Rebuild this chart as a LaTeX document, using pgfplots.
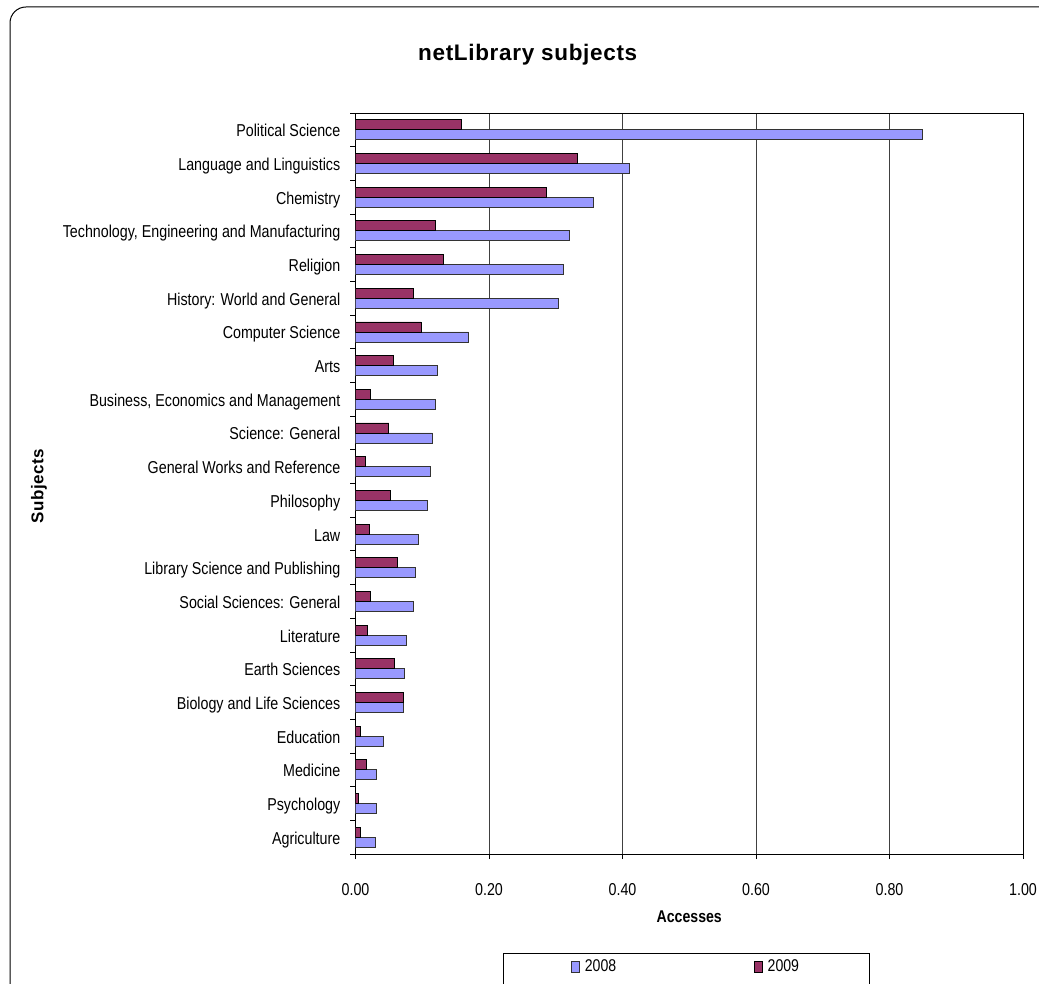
\documentclass[border=0pt]{standalone}
\usepackage{pgfplots}
\pgfplotsset{compat=1.18}
\usepackage{pgfplotstable}
\usepackage{fontspec}
\setmainfont{Liberation Sans}
\newfontfamily\cond[FakeStretch=0.83]{Liberation Sans}
\newfontfamily\titlefont[LetterSpace=3]{Liberation Sans}
\definecolor{c08}{HTML}{9999FF}
\definecolor{c09}{HTML}{993366}

% y: position (22 = top), a: 2008, b: 2009
\pgfplotstableread{
y  a      b
22 0.850  0.159
21 0.411  0.333
20 0.357  0.286
19 0.321  0.119
18 0.311  0.131
17 0.304  0.087
16 0.169  0.098
15 0.123  0.057
14 0.119  0.023
13 0.115  0.050
12 0.112  0.015
11 0.107  0.052
10 0.094  0.021
9  0.089  0.063
8  0.087  0.022
7  0.076  0.018
6  0.073  0.059
5  0.072  0.072
4  0.042  0.007
3  0.031  0.016
2  0.031  0.005
1  0.030  0.007
}\data

\begin{document}
\begin{tikzpicture}
\useasboundingbox (0,0) rectangle (1039pt,983pt);
\clip (0,0) rectangle (1039pt,983pt);
\fill[white] (0,0) rectangle (1039pt,983pt);
\draw[line width=1pt, rounded corners=16pt] (10pt,976pt) rectangle (1070pt,-30pt);
\begin{axis}[
  at={(355.5pt,129pt)}, anchor=south west,
  scale only axis, width=667.5pt, height=741pt,
  xbar, bar width=10pt,
  xmin=0, xmax=1, ymin=0.5, ymax=22.5,
  xtick={0,0.2,0.4,0.6,0.8,1},
  xticklabels={0.00,0.20,0.40,0.60,0.80,1.00},
  ytick={1,...,22},
  yticklabels={Agriculture,Psychology,Medicine,Education,Biology and Life Sciences,Earth Sciences,Literature,{Social Sciences: General},Library Science and Publishing,Law,Philosophy,General Works and Reference,{Science: General},{Business, Economics and Management},Arts,Computer Science,{History: World and General},Religion,{Technology, Engineering and Manufacturing},Chemistry,Language and Linguistics,Political Science},
  minor ytick={0.5,1.5,...,22.5},
  major y tick style={draw=none},
  tick align=outside, tick pos=left,
  major tick length=5pt, minor tick length=5pt,
  tick style={black, line width=0.8pt},
  xmajorgrids, grid style={black!75, line width=0.8pt},
  axis line style={line width=0.8pt},
  ticklabel style={font=\cond\fontsize{17.2pt}{20pt}\selectfont},
  yticklabel style={anchor=base east, inner sep=0pt, xshift=-10pt, yshift=-7pt},
  xticklabel style={anchor=base, inner sep=0pt, yshift=-36pt},
  title={netLibrary subjects},
  title style={at={(axis description cs:0.258,1.0625)}, anchor=base, font=\titlefont\bfseries\fontsize{22.5pt}{26pt}\selectfont},
  xlabel={Accesses},
  xlabel style={at={(axis description cs:0.5,-0.0931)}, anchor=base, font=\cond\bfseries\fontsize{17pt}{20pt}\selectfont},
  ylabel={Subjects},
  ylabel style={at={(axis description cs:-0.474,0.4966)}, anchor=center, font=\titlefont\bfseries\fontsize{17pt}{20pt}\selectfont},
  legend style={at={(axis description cs:0.221,-0.1336)}, anchor=north west,
    legend columns=2, draw=black, line width=0.8pt,
    font=\cond\fontsize{17pt}{20pt}\selectfont,
    inner xsep=68pt, inner ysep=4pt,
    cells={anchor=base west},
    /tikz/every even column/.append style={column sep=136pt}},
  sq/.style={legend image code/.code={\draw[##1, line width=0.6pt] (0pt,-1pt) rectangle (8pt,10pt);}},
]
\addplot[fill=c08, draw=black!80, line width=0.8pt, bar shift=-5pt, sq] table[x=a,y=y]{\data};
\addlegendentry{\,2008}
\addplot[fill=c09, draw=black, line width=0.8pt, bar shift=5pt, sq] table[x=b,y=y]{\data};
\addlegendentry{\,2009}
\addlegendimage{empty legend}
\addlegendentry{\rule{0pt}{40pt}}
\addlegendimage{empty legend}
\addlegendentry{}
\end{axis}
\end{tikzpicture}
\end{document}
